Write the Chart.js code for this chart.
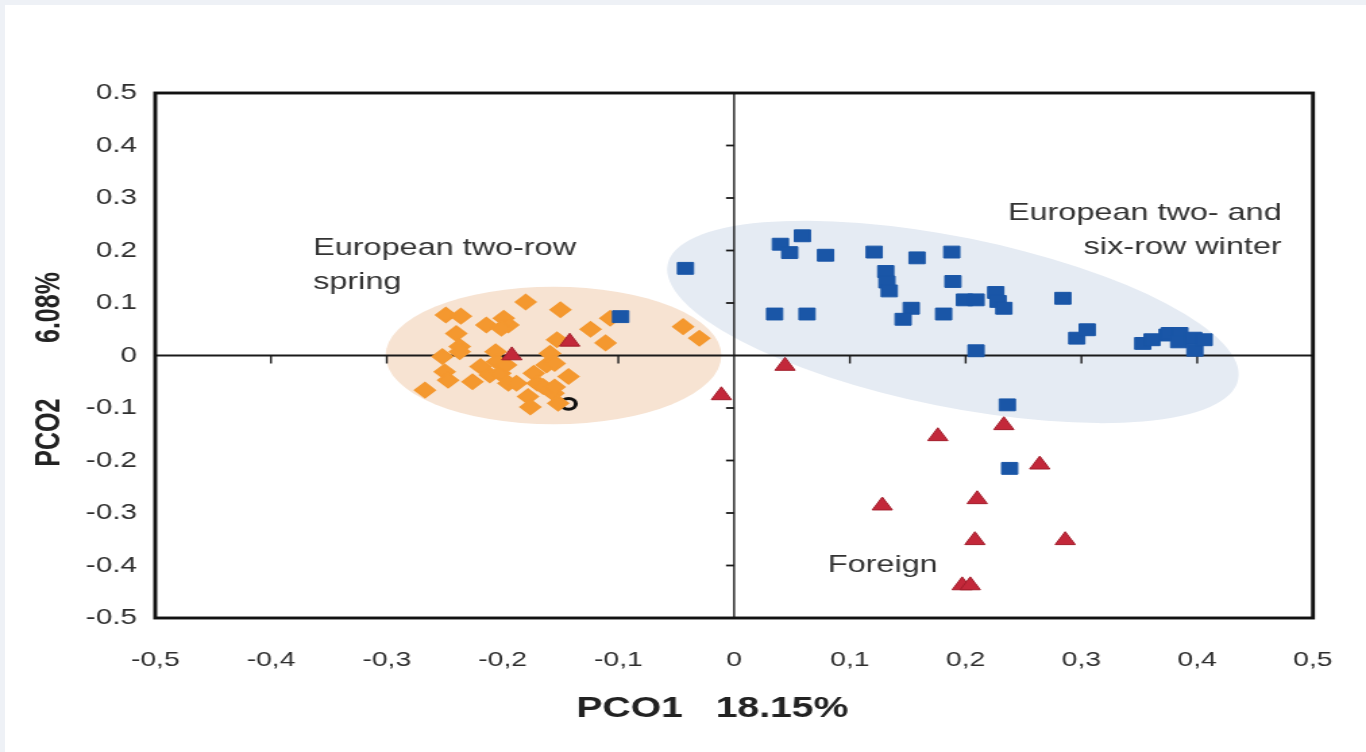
<!DOCTYPE html>
<html>
<head>
<meta charset="utf-8">
<script src="https://cdn.jsdelivr.net/npm/chart.js@4.4.1/dist/chart.umd.min.js"></script>
<style>
  html, body { margin: 0; padding: 0; background: #eef1f6; overflow: hidden; }
  #sheet { position: absolute; left: 5px; top: 5px; right: 0; bottom: 0; background: #ffffff; }
  #pco { position: absolute; left: 0; top: 0; }
</style>
</head>
<body>
<div id="sheet"></div>
<canvas id="pco" width="1012" height="752" style="width:1366px;height:752px"></canvas>
<script>
// Tick labels (x uses decimal commas, y uses decimal points)
const xTickLabels = ['-0,5', '-0,4', '-0,3', '-0,2', '-0,1', '0', '0,1', '0,2', '0,3', '0,4', '0,5'];
const yTickLabels = ['-0.5', '-0.4', '-0.3', '-0.2', '-0.1', '0', '0.1', '0.2', '0.3', '0.4', '0.5'];

// European two-row spring accessions
const springX = [-0.180, -0.150, -0.249, -0.236, -0.214, -0.199, -0.195, -0.201, -0.240, -0.237,
                 -0.237, -0.153, -0.252, -0.250, -0.247, -0.267, -0.226, -0.219, -0.206, -0.205,
                 -0.211, -0.202, -0.197, -0.195, -0.188, -0.173, -0.170, -0.178, -0.176, -0.162,
                 -0.159, -0.155, -0.165, -0.156, -0.152, -0.143, -0.107, -0.124, -0.111, -0.044,
                 -0.030, -0.155];
const springY = [0.102, 0.087, 0.077, 0.075, 0.058, 0.071, 0.058, 0.052, 0.042, 0.017,
                 0.007, 0.030, -0.002, -0.031, -0.047, -0.066, -0.050, -0.021, 0.007, -0.012,
                 -0.037, -0.034, -0.018, -0.053, -0.053, -0.034, -0.053, -0.078, -0.098, -0.018,
                 0.004, -0.015, -0.059, -0.072, -0.091, -0.040, 0.071, 0.050, 0.024, 0.055,
                 0.033, -0.060];

// European two- and six-row winter accessions
const winterX = [-0.098, -0.042, 0.040, 0.048, 0.059, 0.079, 0.121, 0.131, 0.132, 0.134,
                 0.158, 0.188, 0.189, 0.199, 0.209, 0.226, 0.228, 0.233, 0.035, 0.063,
                 0.153, 0.146, 0.181, 0.209, 0.284, 0.296, 0.305, 0.353, 0.361, 0.374,
                 0.376, 0.385, 0.384, 0.397, 0.398, 0.406, 0.236, 0.238];
const winterY = [0.074, 0.166, 0.212, 0.196, 0.228, 0.191, 0.197, 0.160, 0.140, 0.123,
                 0.186, 0.197, 0.141, 0.106, 0.106, 0.120, 0.103, 0.090, 0.079, 0.079,
                 0.090, 0.069, 0.079, 0.009, 0.109, 0.033, 0.049, 0.023, 0.030, 0.039,
                 0.042, 0.042, 0.026, 0.033, 0.010, 0.030, -0.094, -0.215];

// Foreign accessions
const foreignX = [-0.192, -0.142, -0.011, 0.044, 0.176, 0.233, 0.264, 0.128, 0.210, 0.208, 0.286, 0.197, 0.204];
const foreignY = [0.000, 0.026, -0.076, -0.020, -0.154, -0.133, -0.208, -0.286, -0.274, -0.352, -0.352, -0.438, -0.438];

// Single unassigned accession
const otherX = [-0.143];
const otherY = [-0.092];

const zip = (xs, ys) => xs.map((x, i) => ({ x: x, y: ys[i] }));

// Group envelopes, in data units: centre plus two conjugate half-axes
const groupEllipses = [
  { center: [-0.156, 0.000], u: [0.145, 0.000], v: [0.000, 0.131], fill: '#f7e3d2' },
  { center: [0.189, 0.064], u: [0.2464, -0.1095], v: [-0.0145, -0.1587], fill: '#e5ebf3' }
];

// Group captions, anchored in data units
const groupLabels = [
  { lines: ['European two-row', 'spring'], at: [-0.3636, 0.205], align: 'left' },
  { lines: ['European two- and', 'six-row winter'], at: [0.473, 0.271], align: 'right' },
  { lines: ['Foreign'], at: [0.081, -0.399], align: 'left' }
];

const FONT = '"Liberation Sans", Arial, Helvetica, sans-serif';

const decor = {
  id: 'decor',
  beforeDatasetsDraw(chart) {
    const { ctx, chartArea: a, scales: { x, y } } = chart;
    ctx.save();
    // envelopes
    groupEllipses.forEach(e => {
      const cx = x.getPixelForValue(e.center[0]);
      const cy = y.getPixelForValue(e.center[1]);
      const ux = x.getPixelForValue(e.center[0] + e.u[0]) - cx;
      const uy = y.getPixelForValue(e.center[1] + e.u[1]) - cy;
      const vx = x.getPixelForValue(e.center[0] + e.v[0]) - cx;
      const vy = y.getPixelForValue(e.center[1] + e.v[1]) - cy;
      ctx.save();
      ctx.beginPath();
      ctx.transform(ux, uy, vx, vy, cx, cy);
      ctx.arc(0, 0, 1, 0, Math.PI * 2);
      ctx.restore();
      ctx.fillStyle = e.fill;
      ctx.fill();
    });
    // zero axes with tick marks
    const x0 = x.getPixelForValue(0);
    const y0 = y.getPixelForValue(0);
    ctx.strokeStyle = '#1a1a1a';
    ctx.lineWidth = 1.8;
    ctx.beginPath();
    ctx.moveTo(a.left, y0); ctx.lineTo(a.right, y0);
    ctx.stroke();
    ctx.lineWidth = 1.4;
    ctx.beginPath();
    ctx.moveTo(x0, a.top); ctx.lineTo(x0, a.bottom);
    ctx.stroke();
    ctx.lineWidth = 1.4;
    x.ticks.forEach(t => {
      if (Math.abs(t.value) < 1e-9 || Math.abs(Math.abs(t.value) - 0.5) < 1e-9) return;
      const px = x.getPixelForValue(t.value);
      ctx.beginPath(); ctx.moveTo(px, y0); ctx.lineTo(px, y0 + 8); ctx.stroke();
    });
    ctx.lineWidth = 1.8;
    y.ticks.forEach(t => {
      if (Math.abs(t.value) < 1e-9 || Math.abs(Math.abs(t.value) - 0.5) < 1e-9) return;
      const py = y.getPixelForValue(t.value);
      ctx.beginPath(); ctx.moveTo(x0, py); ctx.lineTo(x0 - 6, py); ctx.stroke();
    });
    ctx.restore();
  },
  afterDatasetsDraw(chart) {
    const { ctx, chartArea: a, scales: { x, y } } = chart;
    ctx.save();
    ctx.strokeStyle = '#111';
    ctx.lineWidth = 2.9;
    ctx.strokeRect(a.left, a.top, a.right - a.left, a.bottom - a.top);
    ctx.fillStyle = '#333';
    ctx.font = '24px ' + FONT;
    ctx.textBaseline = 'middle';
    groupLabels.forEach(g => {
      ctx.textAlign = g.align;
      const px = x.getPixelForValue(g.at[0]);
      const py = y.getPixelForValue(g.at[1]);
      g.lines.forEach((line, i) => ctx.fillText(line, px, py + i * 34));
    });
    ctx.restore();
  }
};

new Chart(document.getElementById('pco'), {
  type: 'scatter',
  data: {
    datasets: [
      { label: 'Foreign', data: zip(foreignX, foreignY), order: 0,
        pointStyle: 'triangle', pointRadius: 8.6, backgroundColor: '#c3283a',
        borderColor: '#a31d2b', borderWidth: 1 },
      { label: 'European two- and six-row winter', data: zip(winterX, winterY), order: 1,
        pointStyle: 'rect', pointRadius: 8.4, backgroundColor: '#1a56a7',
        borderColor: '#1a56a7', borderWidth: 1 },
      { label: 'European two-row spring', data: zip(springX, springY), order: 2,
        pointStyle: 'rectRot', pointRadius: 7.4, backgroundColor: '#f4982f',
        borderColor: '#f4982f', borderWidth: 1.6 },
      { label: 'Other', data: zip(otherX, otherY), order: 3,
        pointStyle: 'circle', pointRadius: 5.4, backgroundColor: 'rgba(0,0,0,0)',
        borderColor: '#111', borderWidth: 3 }
    ]
  },
  options: {
    responsive: false,
    devicePixelRatio: 1,
    animation: false,
    events: [],
    layout: { padding: { top: 93, right: 39.3, bottom: 0, left: 0 } },
    plugins: { legend: { display: false }, tooltip: { enabled: false } },
    scales: {
      x: {
        type: 'linear', min: -0.5, max: 0.5,
        grid: { display: false, drawTicks: true, tickLength: 5.3 },
        border: { display: false },
        ticks: {
          stepSize: 0.1, padding: 24.7, color: '#2e2e2e',
          font: { family: FONT, size: 21 },
          callback: (v, i) => xTickLabels[i]
        },
        title: {
          display: true, text: 'PCO1   18.15%    ', color: '#222',
          font: { family: FONT, size: 29, weight: 'bold' },
          padding: { top: 0, bottom: 26 }
        },
        afterFit: s => { s.height = 134; }
      },
      y: {
        type: 'linear', min: -0.5, max: 0.5,
        grid: { display: false, drawTicks: false },
        border: { display: false },
        ticks: {
          stepSize: 0.1, padding: 13.5, color: '#2e2e2e',
          font: { family: FONT, size: 22 },
          callback: (v, i) => yTickLabels[i]
        },
        title: {
          display: true, text: 'PCO2        6.08%    ', color: '#222',
          font: { family: FONT, size: 25, weight: 'bold' },
          padding: { top: 22, bottom: 0 }
        },
        afterFit: s => { s.width = 115; }
      }
    }
  },
  plugins: [decor]
});
</script>
</body>
</html>
